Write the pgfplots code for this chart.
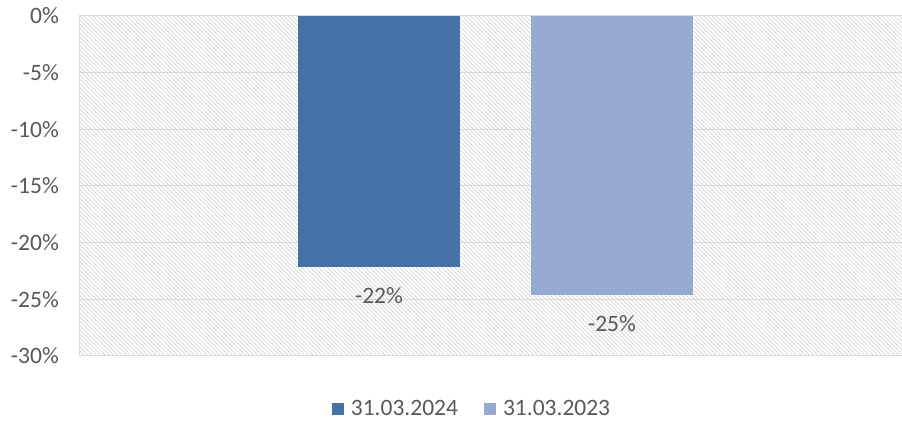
\documentclass[border=0pt]{standalone}
\usepackage{pgfplots}
\pgfplotsset{compat=1.18}
\usepackage{fontspec}
\setmainfont{Carlito}
\usetikzlibrary{patterns.meta}
\definecolor{darkbar}{HTML}{4472A6}
\definecolor{lightbar}{HTML}{95A9D1}
\definecolor{txt}{HTML}{595959}
\definecolor{grid}{HTML}{D9D9D9}
\definecolor{hatch}{HTML}{D4D4D4}
\begin{document}
\begin{tikzpicture}
\useasboundingbox (0,0) rectangle (902bp,428bp);
\begin{axis}[
  at={(79bp,72bp)}, anchor=south west,
  scale only axis, width=823bp, height=340bp,
  xmin=0, xmax=823, ymin=-30, ymax=0,
  xtick=\empty,
  ytick={-30,-25,-20,-15,-10,-5,0},
  yticklabels={-30\%,-25\%,-20\%,-15\%,-10\%,-5\%,0\%},
  yticklabel style={anchor=east, inner sep=0pt, xshift=-20bp, text=txt, font=\fontsize{23.5bp}{26bp}\selectfont},
  major tick length=0pt,
  ymajorgrids, major grid style={color=grid, line width=1bp},
  axis line style={color=grid, line width=1bp},
  axis background/.style={pattern={Lines[angle=-45,distance=3bp,line width=0.7bp]}, pattern color=hatch},
  ybar, bar shift=0pt, bar width=162,
  point meta=explicit symbolic,
  nodes near coords,
  every node near coord/.append style={anchor=north, inner sep=0pt, yshift=-20bp, text=txt, font=\fontsize{23.5bp}{26bp}\selectfont},
  legend columns=2,
  legend style={at={(0.4763,-0.156)}, anchor=center, draw=none, fill=none, inner sep=0pt,
    nodes={inner sep=0pt, text=txt, font=\fontsize{23.5bp}{26bp}\selectfont},
    /tikz/every even column/.append style={column sep=26bp}},
  legend image code/.code={\fill[#1] (0bp,-6bp) rectangle (12bp,6bp); \path (19bp,0bp);},
]
\addplot[fill=darkbar, draw=none] coordinates {(300,-22.15) [-22\%]};
\addplot[fill=lightbar, draw=none] coordinates {(533,-24.6) [-25\%]};
\legend{31.03.2024, 31.03.2023}
\end{axis}
\end{tikzpicture}
\end{document}
